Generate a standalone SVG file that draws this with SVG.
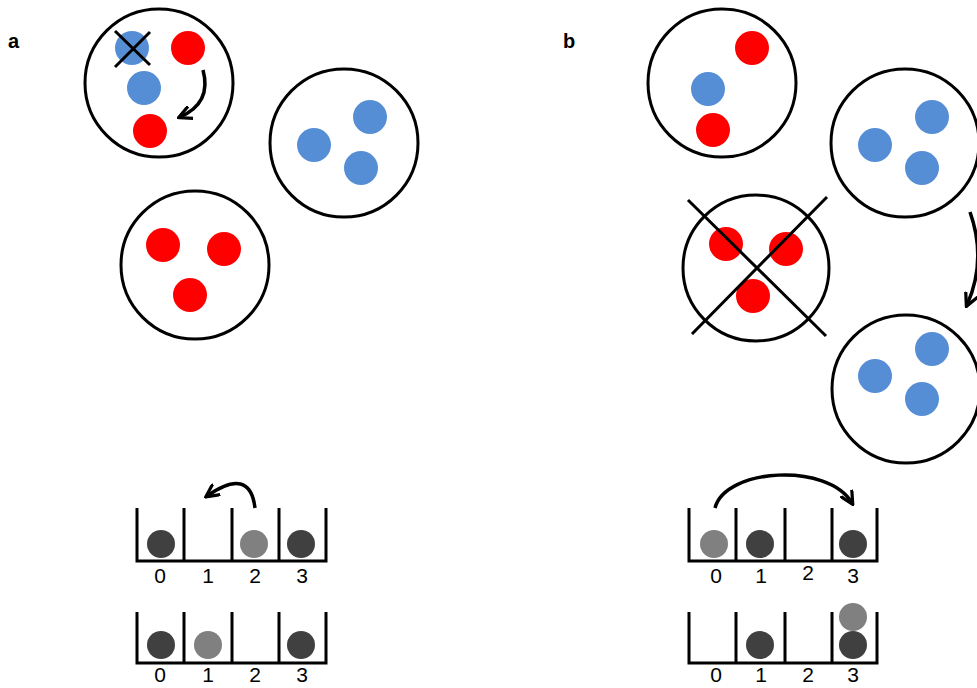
<svg xmlns="http://www.w3.org/2000/svg" width="977" height="688" viewBox="0 0 977 688">
<style>
.cell{fill:#fff;stroke:#000;stroke-width:3}
.r{fill:#ff0000}
.b{fill:#558ed5}
.dk{fill:#404040}
.lt{fill:#808080}
.x{stroke:#000;stroke-width:3;fill:none}
.bin{stroke:#000;stroke-width:3;fill:none}
.arr{stroke:#000;stroke-width:3.5;fill:none;marker-end:url(#ah)}
.lbl{font-family:"Liberation Sans",Arial,sans-serif;font-size:21px;fill:#000;text-anchor:middle}
.pl{font-family:"Liberation Sans",Arial,sans-serif;font-size:20px;font-weight:bold;fill:#000}
</style>
<defs>
<marker id="ah" viewBox="0 0 10 10" refX="8" refY="5" markerWidth="4.2" markerHeight="4.2" orient="auto" markerUnits="strokeWidth">
<path d="M0,0.5 L9,5 L0,9.5" fill="none" stroke="#000" stroke-width="2.2"/>
</marker>
</defs>
<text class="pl" x="8" y="48">a</text>
<text class="pl" x="563" y="48">b</text>
<g id="a-cell1">
<circle class="cell" cx="159" cy="83" r="74"/>
<circle class="b" cx="132" cy="48" r="17"/>
<circle class="r" cx="188" cy="48" r="17"/>
<circle class="b" cx="144" cy="88" r="17"/>
<circle class="r" cx="150" cy="131" r="17"/>
<path class="x" d="M115,31 L150,65 M150,32 L115,67"/>
</g>
<g id="a-cell2">
<circle class="cell" cx="344" cy="143" r="74"/>
<circle class="b" cx="314" cy="145" r="17"/>
<circle class="b" cx="370" cy="117" r="17"/>
<circle class="b" cx="361" cy="168" r="17"/>
</g>
<g id="a-cell3">
<circle class="cell" cx="195" cy="265" r="74"/>
<circle class="r" cx="163" cy="245" r="17"/>
<circle class="r" cx="224" cy="249" r="17"/>
<circle class="r" cx="190" cy="295" r="17"/>
</g>
<g id="b-cell1">
<circle class="cell" cx="722" cy="83" r="74"/>
<circle class="r" cx="752" cy="48" r="17"/>
<circle class="b" cx="708" cy="89" r="17"/>
<circle class="r" cx="713" cy="130" r="17"/>
</g>
<g id="b-cell2">
<circle class="cell" cx="905" cy="143" r="74"/>
<circle class="b" cx="875" cy="145" r="17"/>
<circle class="b" cx="932" cy="117" r="17"/>
<circle class="b" cx="922" cy="168" r="17"/>
</g>
<g id="b-cell3">
<circle class="cell" cx="756" cy="268" r="73"/>
<circle class="r" cx="726" cy="244" r="17"/>
<circle class="r" cx="786" cy="249" r="17"/>
<circle class="r" cx="753" cy="296" r="17"/>
<path class="x" d="M688,200 L826,336 M827,197 L692,334"/>
</g>
<g id="b-cell4">
<circle class="cell" cx="906" cy="389" r="74"/>
<circle class="b" cx="875" cy="376" r="17"/>
<circle class="b" cx="932" cy="349" r="17"/>
<circle class="b" cx="922" cy="399" r="17"/>
</g>
<g id="a-bins-top">
<path class="bin" d="M137,508 V561 H326 V508 M184,508 V561 M232,508 V561 M279,508 V561"/>
<circle class="dk" cx="161" cy="544" r="14"/>
<circle class="lt" cx="254" cy="544" r="14"/>
<circle class="dk" cx="301" cy="544" r="14"/>
<text class="lbl" x="160" y="583">0</text>
<text class="lbl" x="208" y="583">1</text>
<text class="lbl" x="255" y="583">2</text>
<text class="lbl" x="302" y="583">3</text>
</g>
<g id="a-bins-bottom">
<path class="bin" d="M137,612 V663 H326 V612 M184,612 V663 M232,612 V663 M279,612 V663"/>
<circle class="dk" cx="161" cy="645" r="14"/>
<circle class="lt" cx="208" cy="645" r="14"/>
<circle class="dk" cx="301" cy="645" r="14"/>
<text class="lbl" x="160" y="682">0</text>
<text class="lbl" x="208" y="682">1</text>
<text class="lbl" x="255" y="682">2</text>
<text class="lbl" x="302" y="682">3</text>
</g>
<g id="b-bins-top">
<path class="bin" d="M689,508 V561 H877 V508 M736,508 V561 M785,508 V561 M832,508 V561"/>
<circle class="lt" cx="714" cy="544" r="14"/>
<circle class="dk" cx="760" cy="544" r="14"/>
<circle class="dk" cx="853" cy="544" r="14"/>
<text class="lbl" x="716" y="583">0</text>
<text class="lbl" x="761" y="583">1</text>
<text class="lbl" x="808" y="580">2</text>
<text class="lbl" x="853" y="583">3</text>
</g>
<g id="b-bins-bottom">
<path class="bin" d="M689,612 V663 H877 V612 M736,612 V663 M785,612 V663 M832,612 V663"/>
<circle class="dk" cx="760" cy="645" r="14"/>
<circle class="dk" cx="853" cy="645" r="14"/>
<circle class="lt" cx="853" cy="617" r="14"/>
<text class="lbl" x="716" y="682">0</text>
<text class="lbl" x="761" y="682">1</text>
<text class="lbl" x="808" y="682">2</text>
<text class="lbl" x="853" y="682">3</text>
</g>
<g id="connectors">
<path class="arr" d="M203,70 Q212,103 180,117"/>
<path class="arr" d="M970,212 Q987,260 967,305"/>
<path class="arr" d="M255,508 Q250,466 207,496"/>
<path class="arr" d="M715,508 C725,468 828,462 852,503"/>
</g>
</svg>
